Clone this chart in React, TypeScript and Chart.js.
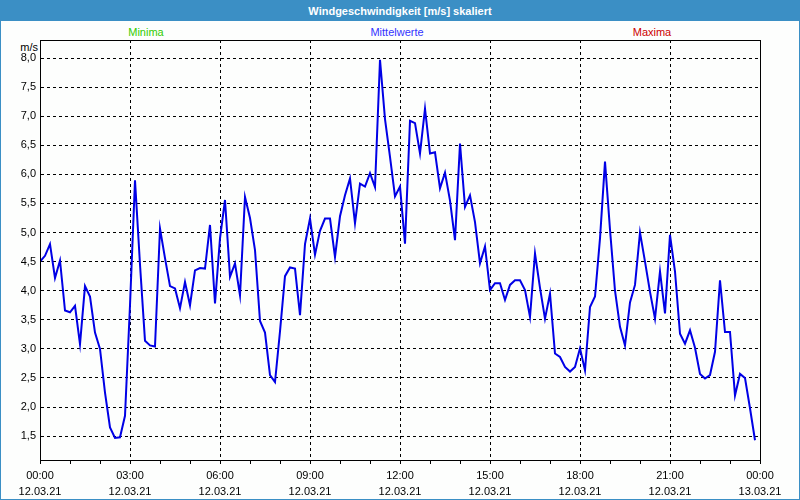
import React, { useEffect, useRef } from "react";
import { Chart, registerables } from "chart.js";

Chart.register(...registerables);

// 10-minute means of wind speed, 12.03.21 00:00 .. 23:50
const STEP_MINUTES = 10;
const MEAN_VALUES: number[] = [
  4.50, 4.60, 4.80, 4.22, 4.52, 3.66, 3.63, 3.74, 3.08, 4.08,
  3.90, 3.28, 3.00, 2.25, 1.65, 1.47, 1.48, 1.85, 3.75, 5.90,
  4.45, 3.14, 3.06, 3.04, 5.07, 4.56, 4.08, 4.04, 3.70, 4.15,
  3.75, 4.35, 4.39, 4.38, 5.13, 3.78, 4.90, 5.56, 4.24, 4.47,
  3.92, 5.61, 5.25, 4.70, 3.48, 3.28, 2.55, 2.43, 3.30, 4.25,
  4.40, 4.38, 3.58, 4.80, 5.24, 4.62, 5.03, 5.24, 5.24, 4.58,
  5.28, 5.64, 5.93, 5.16, 5.84, 5.79, 6.02, 5.78, 7.97, 6.95,
  6.30, 5.62, 5.79, 4.81, 6.92, 6.88, 6.36, 7.13, 6.36, 6.38,
  5.76, 6.03, 5.55, 4.87, 6.53, 5.44, 5.64, 5.18, 4.47, 4.76,
  4.01, 4.13, 4.13, 3.84, 4.10, 4.18, 4.18, 4.01, 3.55, 4.64,
  4.05, 3.52, 3.95, 2.92, 2.86, 2.69, 2.61, 2.69, 3.01, 2.63,
  3.72, 3.90, 4.90, 6.22, 5.05, 4.00, 3.38, 3.06, 3.80, 4.10,
  5.00, 4.50, 3.98, 3.52, 4.33, 3.61, 4.96, 4.33, 3.26, 3.09,
  3.32, 3.02, 2.57, 2.49, 2.55, 2.95, 4.18, 3.29, 3.29, 2.20,
  2.57, 2.50, 1.98, 1.43,
];

const X_TICK_TIMES = ["00:00", "03:00", "06:00", "09:00", "12:00", "15:00", "18:00", "21:00", "00:00"];
const X_TICK_DATES = ["12.03.21", "12.03.21", "12.03.21", "12.03.21", "12.03.21", "12.03.21", "12.03.21", "12.03.21", "13.03.21"];

const TITLE = "Windgeschwindigkeit [m/s] skaliert";
const LEGEND_LABELS = ["Minima", "Mittelwerte", "Maxima"];
const LEGEND_COLORS = ["#33cc00", "#3333ff", "#cc0000"];
const Y_UNIT = "m/s";

const Y_MIN = 1.09;
const Y_MAX = 8.31;
const X_MAX = 1440;

const FONT = "'Liberation Sans', Arial, sans-serif";

export default function App() {
  const canvasRef = useRef<HTMLCanvasElement | null>(null);

  useEffect(() => {
    document.body.style.margin = "0";
    const canvas = canvasRef.current;
    if (!canvas) return;

    const framePlugin = {
      id: "plotFrame",
      afterDraw(chart: any) {
        const { ctx, chartArea } = chart;
        ctx.save();
        ctx.strokeStyle = "#000";
        ctx.lineWidth = 1;
        ctx.strokeRect(
          Math.round(chartArea.left) + 0.5,
          Math.round(chartArea.top) + 0.5,
          Math.round(chartArea.right - chartArea.left),
          Math.round(chartArea.bottom - chartArea.top)
        );
        ctx.restore();
      },
    };

    const chart = new Chart(canvas, {
      type: "line",
      data: {
        datasets: [
          {
            label: LEGEND_LABELS[1],
            data: MEAN_VALUES.map((v, i) => ({ x: i * STEP_MINUTES, y: v })),
            borderColor: "#0000e6",
            borderWidth: 2,
            pointRadius: 0,
            tension: 0,
            fill: false,
          },
        ],
      },
      options: {
        animation: false,
        responsive: false,
        maintainAspectRatio: false,
        layout: { padding: { left: 0, right: 40, top: 40, bottom: 0 } },
        plugins: {
          legend: { display: false },
          tooltip: { enabled: false },
          title: { display: false },
        },
        scales: {
          x: {
            type: "linear",
            min: 0,
            max: X_MAX,
            afterFit: (s: any) => {
              s.height = 40;
            },
            ticks: {
              stepSize: 60,
              autoSkip: false,
              maxRotation: 0,
              includeBounds: false,
              color: "#000",
              padding: 4,
              font: { family: FONT, size: 11, lineHeight: 1.45 },
              callback: (value: any) => {
                const v = Number(value);
                if (v % 180 !== 0) return "";
                const k = v / 180;
                return [X_TICK_TIMES[k], X_TICK_DATES[k]];
              },
            },
            grid: {
              color: (ctx: any) =>
                ctx.tick && ctx.tick.value % 180 === 0 ? "#000" : "rgba(0,0,0,0)",
              tickColor: "#000",
              tickLength: 4,
              drawTicks: true,
              lineWidth: 1,
            },
            border: { display: true, color: "#000", width: 1, dash: [3, 3] },
          },
          y: {
            type: "linear",
            min: Y_MIN,
            max: Y_MAX,
            afterFit: (s: any) => {
              s.width = 40;
            },
            ticks: {
              stepSize: 0.5,
              includeBounds: false,
              color: "#000",
              padding: 4,
              font: { family: FONT, size: 11 },
              callback: (value: any) => Number(value).toFixed(1).replace(".", ","),
            },
            grid: {
              color: "#000",
              drawTicks: false,
              lineWidth: 1,
            },
            border: { display: true, color: "#000", width: 1, dash: [3, 3] },
          },
        },
      },
      plugins: [framePlugin],
    });

    return () => chart.destroy();
  }, []);

  const legendCenters = [146, 397, 652];

  return (
    <div
      style={{
        position: "fixed",
        left: 0,
        top: 0,
        width: 800,
        height: 500,
        boxSizing: "border-box",
        border: "1px solid #3b8fc5",
        background: "#fdfefd",
        overflow: "hidden",
        fontFamily: FONT,
      }}
    >
      <div
        style={{
          position: "absolute",
          left: 0,
          top: 0,
          width: 798,
          height: 20,
          background: "#3b8fc5",
          color: "#fff",
          fontWeight: "bold",
          fontSize: 11,
          lineHeight: "20px",
          textAlign: "center",
        }}
      >
        {TITLE}
      </div>
      {LEGEND_LABELS.map((label, i) => (
        <div
          key={label}
          style={{
            position: "absolute",
            left: legendCenters[i] - 1 - 60,
            width: 120,
            top: 24,
            textAlign: "center",
            fontSize: 11,
            lineHeight: "14px",
            color: LEGEND_COLORS[i],
          }}
        >
          {label}
        </div>
      ))}
      <div
        style={{
          position: "absolute",
          left: 0,
          width: 37,
          top: 39,
          textAlign: "right",
          fontSize: 11,
          lineHeight: "14px",
          color: "#000",
        }}
      >
        {Y_UNIT}
      </div>
      <canvas
        ref={canvasRef}
        width={800}
        height={500}
        style={{ position: "absolute", left: -1, top: -1, width: 800, height: 500 }}
      />
    </div>
  );
}
